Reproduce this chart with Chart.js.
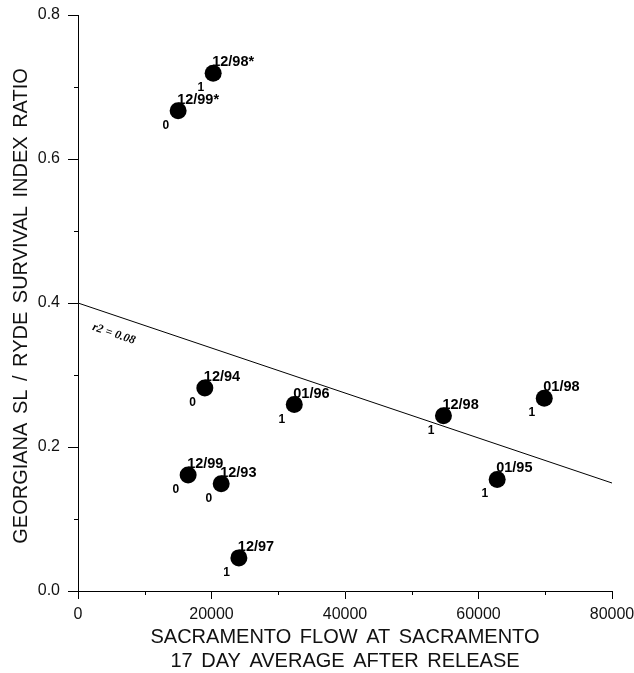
<!DOCTYPE html>
<html lang="en">
<head>
  <meta charset="UTF-8">
  <title>Georgiana SL / Ryde survival vs Sacramento flow</title>
  <style>
    html, body {
      margin: 0;
      padding: 0;
      background: #fff;
    }
    #wrap {
      width: 634px;
      height: 673px;
      position: relative;
    }
  </style>
</head>
<body>
  <div id="wrap">
    <canvas id="chart" width="634" height="673"></canvas>
  </div>

  <script src="https://cdn.jsdelivr.net/npm/chart.js"></script>
  <script>
    // release groups
    const releaseLabels = ['12/98*', '12/99*', '12/94', '01/96', '12/99', '12/93', '12/97', '12/98', '01/98', '01/95'];
    const flowValues = [20250, 15000, 19000, 32400, 16500, 21450, 24100, 54750, 69850, 62800];
    const ratioValues = [0.719, 0.667, 0.282, 0.259, 0.161, 0.149, 0.046, 0.2435, 0.2676, 0.155];
    const flagLabels = ['1', '0', '0', '1', '0', '0', '1', '1', '1', '1'];

    // regression line end points and its r2 note
    const fitX = [0, 80000];
    const fitY = [0.4, 0.15];
    const fitNote = 'r2 = 0.08';
    const fitNoteAt = { x: 5350, y: 0.357 };

    const xTitle = ['SACRAMENTO FLOW AT SACRAMENTO', '17 DAY AVERAGE AFTER RELEASE'];
    const yTitle = 'GEORGIANA SL / RYDE SURVIVAL INDEX RATIO';

    const FONT = 'Arial, "Liberation Sans", Helvetica, sans-serif';

    const points = flowValues.map((x, i) => ({ x: x, y: ratioValues[i] }));
    const fitLine = fitX.map((x, i) => ({ x: x, y: fitY[i] }));

    // point labels, minor ticks, axis titles
    const extras = {
      id: 'extras',
      afterDraw(chart) {
        const ctx = chart.ctx;
        const xs = chart.scales.x;
        const ys = chart.scales.y;
        const area = chart.chartArea;
        ctx.save();

        // minor ticks
        ctx.strokeStyle = '#000';
        ctx.lineWidth = 1;
        ctx.beginPath();
        for (let v = 10000; v < 80000; v += 20000) {
          const px = Math.round(xs.getPixelForValue(v)) + 0.5;
          ctx.moveTo(px, area.bottom);
          ctx.lineTo(px, area.bottom + 4);
        }
        for (let k = 1; k < 8; k += 2) {
          const py = Math.round(ys.getPixelForValue(k / 10)) + 0.5;
          ctx.moveTo(area.left, py);
          ctx.lineTo(area.left - 4, py);
        }
        ctx.stroke();

        // labels beside each point
        const meta = chart.getDatasetMeta(0);
        ctx.fillStyle = '#000';
        meta.data.forEach((pt, i) => {
          ctx.font = 'bold 14.5px ' + FONT;
          ctx.textAlign = 'left';
          ctx.textBaseline = 'alphabetic';
          ctx.fillText(releaseLabels[i], pt.x - 1, pt.y - 7);
          ctx.font = 'bold 12px ' + FONT;
          ctx.textAlign = 'right';
          ctx.fillText(flagLabels[i], pt.x - 9, pt.y + 18);
        });

        // r2 note along the fit line
        const x0 = xs.getPixelForValue(fitX[0]), y0 = ys.getPixelForValue(fitY[0]);
        const x1 = xs.getPixelForValue(fitX[1]), y1 = ys.getPixelForValue(fitY[1]);
        const ang = Math.atan2(y1 - y0, x1 - x0);
        ctx.translate(xs.getPixelForValue(fitNoteAt.x), ys.getPixelForValue(fitNoteAt.y));
        ctx.rotate(ang);
        ctx.font = 'italic bold 12px "Liberation Serif", "Times New Roman", serif';
        ctx.textAlign = 'center';
        ctx.textBaseline = 'middle';
        ctx.fillText(fitNote, 0, 0);
        ctx.setTransform(1, 0, 0, 1, 0, 0);

        // axis titles, centred on the plot area
        const cx = (area.left + area.right) / 2;
        const cy = (area.top + area.bottom) / 2;
        ctx.font = '20px ' + FONT;
        ctx.wordSpacing = '3px';
        ctx.fillStyle = '#111';
        ctx.textAlign = 'center';
        ctx.textBaseline = 'middle';
        ctx.fillText(xTitle[0], cx, 637);
        ctx.fillText(xTitle[1], cx, 661);
        ctx.translate(21, cy + 3);
        ctx.rotate(-Math.PI / 2);
        ctx.fillText(yTitle, 0, 0);
        ctx.restore();
      }
    };

    const ctx = document.getElementById('chart').getContext('2d');
    new Chart(ctx, {
      type: 'scatter',
      data: {
        datasets: [
          {
            label: 'Survival ratio',
            data: points,
            backgroundColor: '#000',
            borderWidth: 0,
            pointRadius: 8.5,
            order: 1
          },
          {
            type: 'line',
            label: 'Fit',
            data: fitLine,
            borderColor: '#000',
            borderWidth: 1,
            pointRadius: 0,
            fill: false,
            order: 2
          }
        ]
      },
      options: {
        responsive: false,
        animation: false,
        layout: { padding: { left: 0, right: 22, top: 15, bottom: 0 } },
        plugins: {
          legend: { display: false },
          tooltip: { enabled: false }
        },
        scales: {
          x: {
            type: 'linear',
            min: 0,
            max: 80000,
            afterFit(scale) {
              scale.height = 82;
              scale.paddingRight = 0;
              scale.paddingLeft = 0;
            },
            border: { display: true, color: '#000', width: 1 },
            grid: {
              drawOnChartArea: false,
              tickLength: 8,
              tickColor: (c) => (c.tick && c.tick.value % 20000 === 0 ? '#000' : 'rgba(0,0,0,0)')
            },
            ticks: {
              stepSize: 10000,
              autoSkip: false,
              maxRotation: 0,
              padding: 6,
              color: '#111',
              font: { family: FONT, size: 16 },
              callback: (v) => (v % 20000 === 0 ? String(v) : '')
            }
          },
          y: {
            min: 0,
            max: 0.8,
            afterFit(scale) {
              scale.width = 78;
              scale.paddingTop = 0;
              scale.paddingBottom = 0;
            },
            border: { display: true, color: '#000', width: 1 },
            grid: {
              drawOnChartArea: false,
              tickLength: 10,
              tickColor: (c) => (c.tick && Math.round(c.tick.value * 10) % 2 === 0 ? '#000' : 'rgba(0,0,0,0)')
            },
            ticks: {
              stepSize: 0.1,
              autoSkip: false,
              padding: 8,
              color: '#111',
              font: { family: FONT, size: 16 },
              callback: (v) => (Math.round(v * 10) % 2 === 0 ? v.toFixed(1) : '')
            }
          }
        }
      },
      plugins: [extras]
    });
  </script>
</body>
</html>
